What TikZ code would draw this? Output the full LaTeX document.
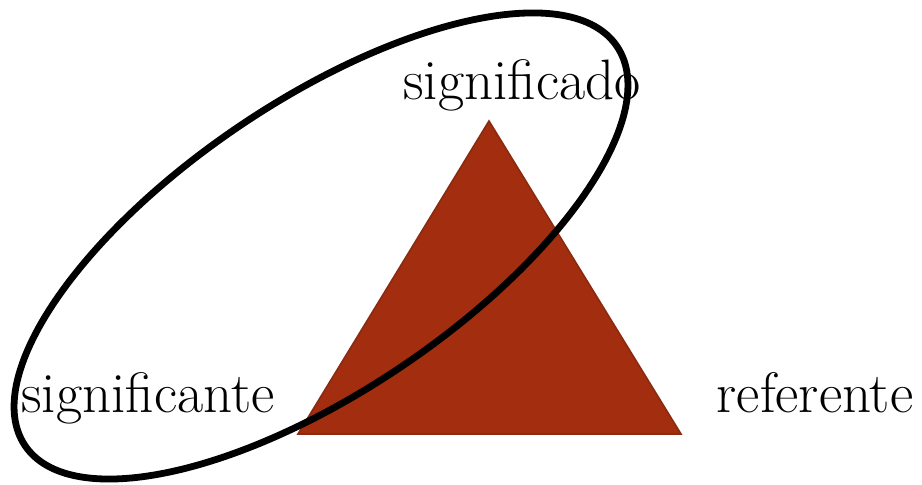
\documentclass[tikz,border=0pt]{standalone}
\usepackage{xcolor}
\usepackage{tikz}
\usetikzlibrary{positioning,calc}
\definecolor{rust}{HTML}{A22D0F}
\definecolor{rustedge}{HTML}{8A2A10}

\begin{document}
\begin{tikzpicture}[
  x=0.5pt, y=0.5pt,
  lbl/.style={inner sep=0pt, font=\fontsize{28.5}{34}\selectfont},
  tri/.style={fill=rust, draw=rustedge, line width=0.8pt, line join=miter},
  ring/.style={draw=black, line width=3.4pt},
]
\useasboundingbox (0,0) rectangle (922,485);
\coordinate (top) at (489,364);
\coordinate (left) at (298,51);
\coordinate (right) at (681,51);
\coordinate (mid) at (321,239);

\filldraw[tri] (top) -- (right) -- (left) -- cycle;

\node[lbl, anchor=base] (sdo) at (522,385) {significado};
\node[lbl, anchor=base] (ste) at (148,72) {significante};
\node[lbl, anchor=base] (ref) at (815,72) {referente};

\draw[ring, rotate around={34:(mid)}] (mid) ellipse [x radius=357, y radius=145];
\end{tikzpicture}
\end{document}
